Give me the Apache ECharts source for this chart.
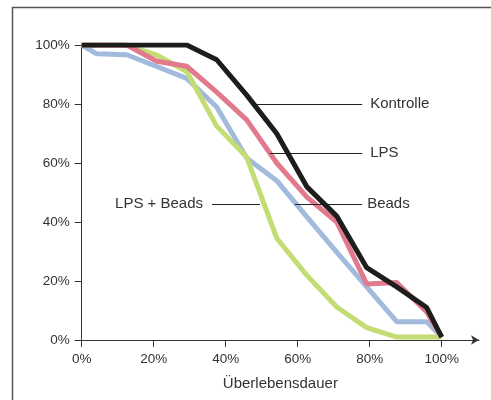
<!DOCTYPE html>
<html>
<head>
<meta charset="utf-8">
<script src="https://cdn.jsdelivr.net/npm/echarts@6/dist/echarts.min.js"></script>
<style>
html,body{margin:0;padding:0;background:#fff;}
#chart{width:491px;height:400px;}
</style>
</head>
<body>
<div id="chart"></div>
<script>
// Data (x in % of survival time, y in % survivors)
var xValues = [0, 4.17, 12.5, 20.83, 29.17, 37.5, 45.83, 54.17, 62.5, 70.83, 79.17, 87.5, 95.83, 100];
var kontrolle = [100, 100, 100, 100, 100, 95, 83, 70, 52, 42, 24.5, 18, 11, 1];
var lps = [100, 100, 100, 94.5, 92.8, 84, 74.6, 60, 48.5, 40, 19, 19.5, 9.5, 1];
var beads = [100, 97, 96.7, 92.7, 88.7, 79, 61.7, 54, 41.8, 29.8, 18, 6.2, 6.2, 1];
var lpsBeads = [100, 100, 100, 96.6, 91, 72.5, 62, 34.5, 22, 11.2, 4.2, 1, 1, 1];
var tickValues = [0, 20, 40, 60, 80, 100];
var seriesNames = ['Kontrolle', 'LPS', 'Beads', 'LPS + Beads'];

function pairs(ys) { return xValues.map(function (x, i) { return [x, ys[i]]; }); }

var FONT = '"Liberation Sans", Arial, sans-serif';
var TXT = '#333333';

var chart = echarts.init(document.getElementById('chart'), null, {renderer: 'canvas'});

function leader(name, y, x0, x1, pos, dist) {
  return [
    {coord: [x0, y], label: {show: true, position: pos, formatter: name, distance: dist, color: TXT, fontSize: 15, fontFamily: FONT}},
    {coord: [x1, y]}
  ];
}

chart.setOption({
  animation: false,
  backgroundColor: '#ffffff',
  grid: {left: 81.7, right: 12, top: 45, bottom: 60, containLabel: false},
  xAxis: {
    type: 'value', min: 0, max: 110.36,
    axisLine: {show: true, lineStyle: {color: TXT, width: 1}, symbol: ['none', 'arrow'], symbolSize: [7, 8]},
    axisTick: {show: true, length: 7, lineStyle: {color: TXT}, customValues: tickValues},
    axisLabel: {color: TXT, fontSize: 13.5, fontFamily: FONT, margin: 12, customValues: tickValues,
      formatter: function (v) { return v + '%'; }},
    splitLine: {show: false},
    name: 'Überlebensdauer', nameLocation: 'middle', nameGap: 36,
    nameTextStyle: {color: TXT, fontSize: 15, fontFamily: FONT}
  },
  yAxis: {
    type: 'value', min: 0, max: 100, interval: 20,
    axisLine: {show: true, lineStyle: {color: TXT, width: 1}},
    axisTick: {show: true, length: 7, lineStyle: {color: TXT}},
    axisLabel: {color: TXT, fontSize: 13.5, fontFamily: FONT, margin: 12, formatter: '{value}%'},
    splitLine: {show: false}
  },
  graphic: [{
    type: 'polyline', silent: true,
    shape: {points: [[12.5, 400], [12.5, 7.5], [491, 7.5]]},
    style: {stroke: '#555555', lineWidth: 1.5, fill: null}
  }],
  series: [
    {
      type: 'line', name: 'leaders', data: [], z: 1, silent: true,
      markLine: {
        silent: true, symbol: ['none', 'none'], animation: false,
        lineStyle: {color: '#222222', width: 1, type: 'solid'},
        data: [
          leader('Kontrolle', 80, 47.6, 77.9, 'end', 8),
          leader('LPS', 63.3, 52.3, 77.9, 'end', 8),
          leader('Beads', 46, 59.2, 77.9, 'end', 5),
          leader('LPS + Beads', 46, 36.2, 49.5, 'start', 9)
        ]
      }
    },
    {type: 'line', name: seriesNames[2], data: pairs(beads), z: 2, showSymbol: false, lineStyle: {color: '#a2bbdd', width: 5}},
    {type: 'line', name: seriesNames[3], data: pairs(lpsBeads), z: 3, showSymbol: false, lineStyle: {color: '#c3dc74', width: 5}},
    {type: 'line', name: seriesNames[1], data: pairs(lps), z: 4, showSymbol: false, lineStyle: {color: '#e07a8c', width: 5}},
    {type: 'line', name: seriesNames[0], data: pairs(kontrolle), z: 5, showSymbol: false, lineStyle: {color: '#1d1d1b', width: 5}}
  ]
});
</script>
</body>
</html>
